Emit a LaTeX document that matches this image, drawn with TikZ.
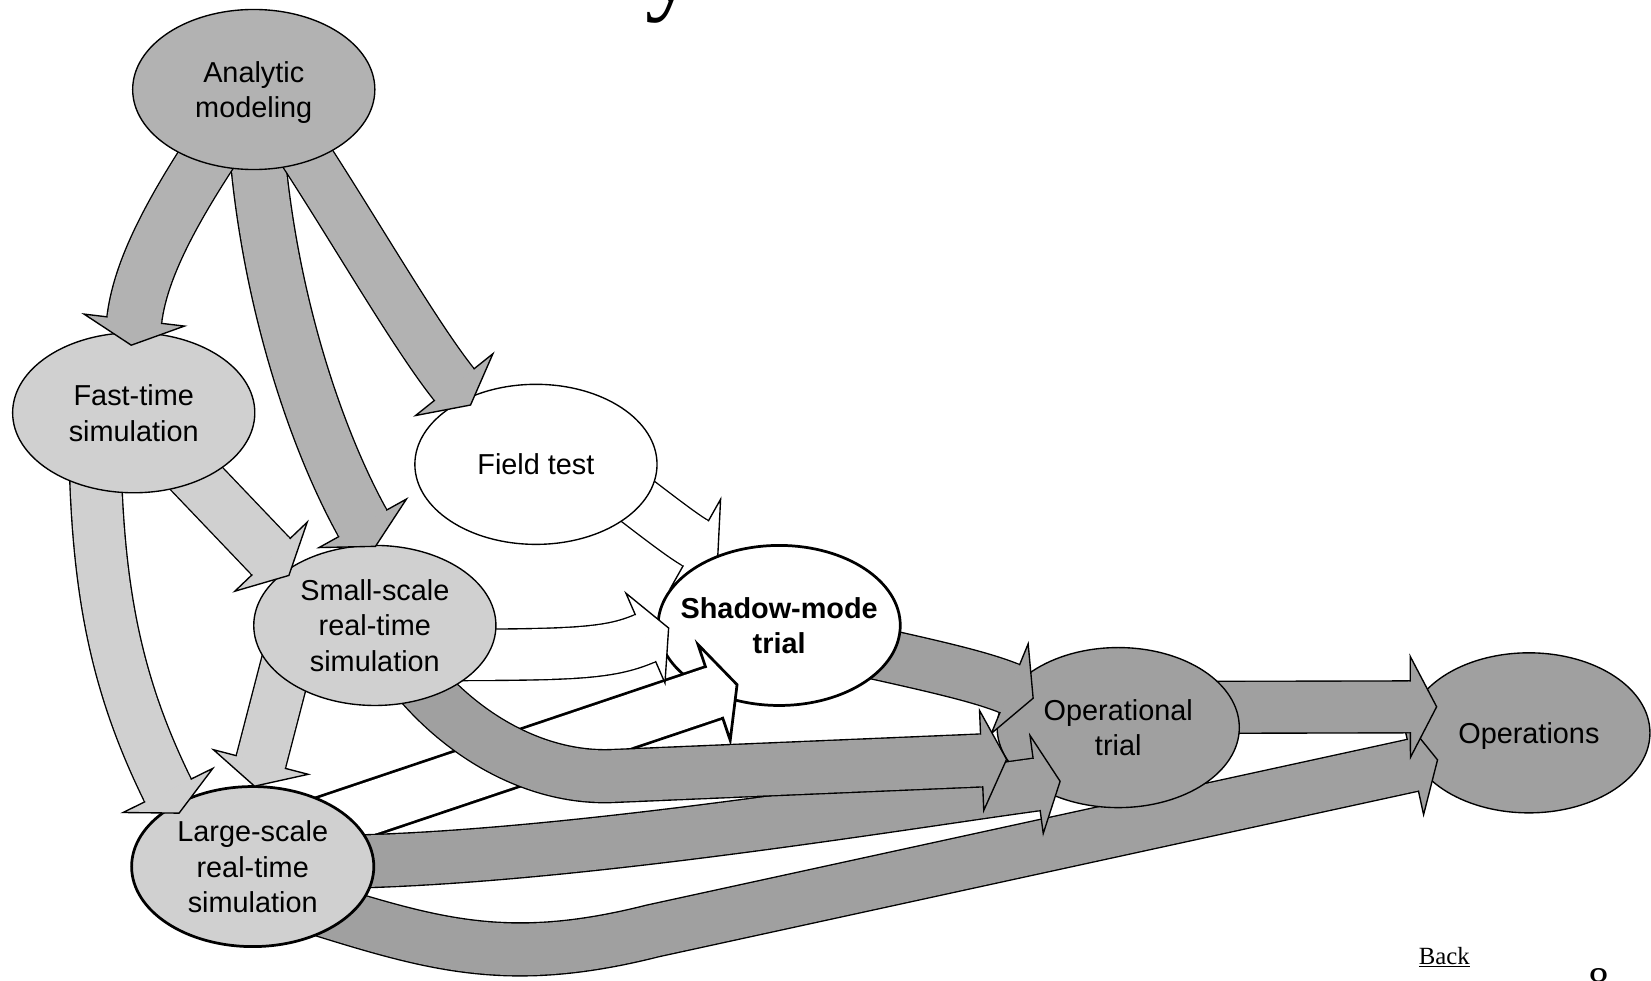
\documentclass[tikz,border=0pt]{standalone}
\usepackage{fontspec}
\setmainfont{Liberation Sans}
\newfontfamily\timesf{Liberation Serif}
\usetikzlibrary{shapes.geometric,calc}
\definecolor{gA}{HTML}{B2B2B2}
\definecolor{gL}{HTML}{D0D0D0}
\definecolor{gD}{HTML}{A0A0A0}
% #1 fill, #2 outline width, #3 shaft width, #4 head width, #5 head length,
% #6 path, #7 point giving the end direction, #8 end point (head base)
\newcommand\blockarrow[8]{%
  \draw[line width={#3pt+2*#2pt}, black, line cap=butt, line join=round] #6;
  \draw[line width=#3pt, #1, line cap=butt, line join=round] #6;
  \path let \p1=($(#8)-(#7)$), \n1={atan2(\y1,\x1)} in \pgfextra{\xdef\headangle{\n1}};
  \fill[shift={(#8)}, rotate=\headangle, #1] (-2,-#3/2) rectangle (0.5,#3/2);
  \filldraw[shift={(#8)}, rotate=\headangle, fill=#1, draw=black, line width=#2pt,
      line join=miter, miter limit=20]
      (0,#3/2) -- (0,#4/2) -- (#5,0) -- (0,-#4/2) -- (0,-#3/2);
}
\tikzset{
  ell/.style={ellipse, draw=black, line width=1.3pt, minimum width=230pt,
    minimum height=152pt, inner sep=0pt, align=center, text depth=0pt,
    font=\fontsize{27.4}{34}\selectfont},
  thickell/.style={ell, line width=2.6pt}
}
\begin{document}
\begin{tikzpicture}[x=1pt, y=-1pt]
\useasboundingbox (0,0) rectangle (1568,931);
\fill[white] (0,0) rectangle (1568,931);
% centres of the ellipses
\coordinate (cAM) at (241,85);
\coordinate (cFT) at (127,392);
\coordinate (cFD) at (509,441);
\coordinate (cSS) at (356,594);
\coordinate (cSM) at (740,594);
\coordinate (cLS) at (240,823);
\coordinate (cOT) at (1062,691);
\coordinate (cOPS) at (1452,696);
% arrow head bases
\coordinate (hAFt) at (127.5,304);
\coordinate (hAS) at (344.5,497);
\coordinate (hAF) at (431.4,365.3);
\coordinate (hFS) at (257.4,528.7);
\coordinate (hFL) at (159.5,750.7);
\coordinate (hSL) at (247.7,723.7);
\coordinate (hSSm) at (613,606);
\coordinate (hFSm) at (660.8,516);
\coordinate (hLSm) at (678.2,657.6);
\coordinate (hSO) at (932.3,722.2);
\coordinate (hLO) at (984.5,745);
\coordinate (hMO) at (959,654);
\coordinate (hOO) at (1339.4,671.3);
\coordinate (hLOS) at (1341.8,726.8);

% title fragment, page items
\node[anchor=base west, inner sep=0pt, font=\timesf\fontsize{96}{96}\selectfont] (ttl) at (613,1.3) {y};
\node[anchor=base west, inner sep=0pt, font=\timesf\fontsize{40}{40}\selectfont] (pg) at (1508.5,946.6) {8};
\node[anchor=base west, inner sep=0pt, font=\timesf\fontsize{23.5}{28}\selectfont] (back) at (1347.4,916.4) {\underline{Back}};

% 1 Operations
\node[ell, fill=gD] (OPS) at (cOPS) {Operations};
% 2 Large -> Operations
\blockarrow{gD}{1.3}{49}{96}{24}{([shift={(20,27)}]cLS) .. controls (400,893) and (470,922) .. (620,884.1) -- (hLOS)}{620,884.1}{hLOS}
% 3 Operational -> Operations
\blockarrow{gD}{1.3}{48}{96}{25}{([shift={(8,-19)}]cOT) -- (hOO)}{[shift={(8,-19)}]cOT}{hOO}
% 4 Operational trial
\node[ell, fill=gD] (OT) at (cOT) {Operational\\trial};
% 5 Shadow -> Operational
\blockarrow{gD}{1.3}{48}{92}{24}{([shift={(0,6)}]cSM) .. controls (850,625) and (922,638.8) .. (hMO)}{922,638.8}{hMO}
% 6 Field -> Shadow
\blockarrow{white}{1.3}{48}{96}{24}{([shift={(31,-15)}]cFD) .. controls (600,471) and (643.4,506.2) .. (hFSm)}{643.4,506.2}{hFSm}
% 7 Shadow-mode trial
\node[thickell, fill=white, inner xsep=-22pt, font=\fontsize{27.4}{34}\selectfont\bfseries] (SM) at (cSM) {Shadow-mode\\trial};
% 8 Large -> Shadow
\blockarrow{white}{2.6}{49}{96}{23}{([shift={(0,-18)}]cLS) -- (hLSm)}{[shift={(0,-18)}]cLS}{hLSm}
% 9 Large -> Operational
\blockarrow{gD}{1.3}{49}{94}{22.5}{([shift={(0,-6)}]cLS) .. controls (450,830) and (835.9,765.1) .. (hLO)}{835.9,765.1}{hLO}
% 10 Small -> Operational
\blockarrow{gD}{1.3}{49}{95}{23.7}{([shift={(14,16)}]cSS) .. controls (420,690) and (502,740.4) .. (582,737) -- (hSO)}{582,737}{hSO}
% 11 Small -> Shadow
\blockarrow{white}{1.3}{47.5}{93}{24}{([shift={(24,28)}]cSS) .. controls (540,622) and (576.2,622) .. (hSSm)}{576.2,622}{hSSm}
% 12 Large-scale
\node[thickell, fill=gL] (LS) at (cLS) {Large-scale\\real-time\\simulation};
% 13 Fast -> Large
\blockarrow{gL}{1.3}{48}{95}{24}{([shift={(-37,28)}]cFT) .. controls (92,560) and (110,650) .. (hFL)}{110,650}{hFL}
% 14 Small -> Large
\blockarrow{gL}{1.3}{47}{93}{23.7}{([shift={(-71,-14)}]cSS) -- (hSL)}{[shift={(-71,-14)}]cSS}{hSL}
% 15 Small-scale
\node[ell, fill=gL] (SS) at (cSS) {Small-scale\\real-time\\simulation};
% 16 Fast -> Small
\blockarrow{gL}{1.3}{49}{95}{24.6}{(cFT) -- (hFS)}{cFT}{hFS}
% 17 Analytic -> Small
\blockarrow{gA}{1.3}{51}{95}{25}{(cAM) .. controls (245,255) and (296,409.6) .. (hAS)}{296,409.6}{hAS}
% 18 Field test
\node[ell, fill=white] (FD) at (cFD) {Field test};
% 19 Analytic -> Field
\blockarrow{gA}{1.3}{47}{94}{24.8}{([shift={(14,10)}]cAM) .. controls (315,180) and (387.7,310.6) .. (hAF)}{387.7,310.6}{hAF}
% 20 Fast-time
\node[ell, fill=gL] (FT) at (cFT) {Fast-time\\simulation};
% 21 Analytic -> Fast
\blockarrow{gA}{1.3}{51}{96}{24}{(cAM) .. controls (170,185) and (133.9,250.4) .. (hAFt)}{133.9,250.4}{hAFt}
% 22 Analytic modeling
\node[ell, fill=gA] (AM) at (cAM) {Analytic\\modeling};
\end{tikzpicture}
\end{document}
